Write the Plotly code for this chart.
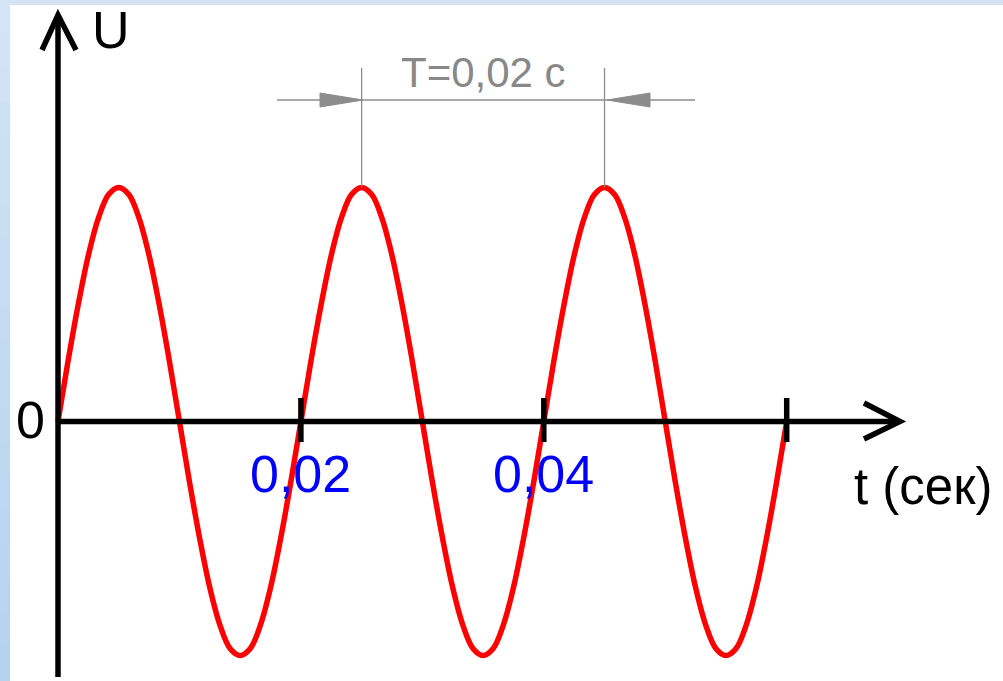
import plotly.graph_objects as go

# ---- data ----
t_values = [0.0, 0.000833, 0.001667, 0.0025, 0.003333, 0.004167, 0.005, 0.005833, 0.006667, 0.0075, 0.008333, 0.009167,
            0.01, 0.010833, 0.011667, 0.0125, 0.013333, 0.014167, 0.015, 0.015833, 0.016667, 0.0175, 0.018333, 0.019167,
            0.02, 0.020833, 0.021667, 0.0225, 0.023333, 0.024167, 0.025, 0.025833, 0.026667, 0.0275, 0.028333, 0.029167,
            0.03, 0.030833, 0.031667, 0.0325, 0.033333, 0.034167, 0.035, 0.035833, 0.036667, 0.0375, 0.038333, 0.039167,
            0.04, 0.040833, 0.041667, 0.0425, 0.043333, 0.044167, 0.045, 0.045833, 0.046667, 0.0475, 0.048333, 0.049167,
            0.05, 0.050833, 0.051667, 0.0525, 0.053333, 0.054167, 0.055, 0.055833, 0.056667, 0.0575, 0.058333, 0.059167,
            0.06]
u_values = [0.0, 0.26, 0.5, 0.71, 0.87, 0.97, 1.0, 0.97, 0.87, 0.71, 0.5, 0.26,
            0.0, -0.26, -0.5, -0.71, -0.87, -0.97, -1.0, -0.97, -0.87, -0.71, -0.5, -0.26,
            0.0, 0.26, 0.5, 0.71, 0.87, 0.97, 1.0, 0.97, 0.87, 0.71, 0.5, 0.26,
            0.0, -0.26, -0.5, -0.71, -0.87, -0.97, -1.0, -0.97, -0.87, -0.71, -0.5, -0.26,
            0.0, 0.26, 0.5, 0.71, 0.87, 0.97, 1.0, 0.97, 0.87, 0.71, 0.5, 0.26,
            0.0, -0.26, -0.5, -0.71, -0.87, -0.97, -1.0, -0.97, -0.87, -0.71, -0.5, -0.26,
            0.0]
tick_positions = [0.02, 0.04, 0.06]
tick_labels = ["0,02", "0,04"]
period_start = 0.025
period_end = 0.045
period_label = "T=0,02 c"

# ---- layout geometry ----
W, H = 1003, 681
ORIGIN_PX_X, ORIGIN_PX_Y = 58, 421.5
PX_PER_S = 12145.0
PX_PER_U = 234.0
x_range = [-ORIGIN_PX_X / PX_PER_S, (W - ORIGIN_PX_X) / PX_PER_S]
y_range = [-(H - ORIGIN_PX_Y) / PX_PER_U, ORIGIN_PX_Y / PX_PER_U]


def xp(px):  # absolute pixel x -> data t
    return (px - ORIGIN_PX_X) / PX_PER_S


def yp(py):  # absolute pixel y -> data U
    return (ORIGIN_PX_Y - py) / PX_PER_U


FONT = "Liberation Sans, Arial, sans-serif"
shapes = []

# background frame strips (left gradient, top strip)
n_bands = 20
c_top = (211, 228, 244)
c_bot = (181, 210, 238)
for i in range(n_bands):
    f = i / (n_bands - 1)
    col = tuple(round(c_top[k] + (c_bot[k] - c_top[k]) * f) for k in range(3))
    shapes.append(dict(type="rect", xref="paper", yref="paper", x0=0, x1=10 / W,
                       y0=1 - (i + 1) / n_bands, y1=1 - i / n_bands + 0.001,
                       line=dict(width=0), fillcolor="rgb(%d,%d,%d)" % col, layer="below"))
shapes.append(dict(type="rect", xref="paper", yref="paper", x0=0, x1=1, y0=1 - 5 / H, y1=1,
                   line=dict(width=0), fillcolor="rgb(212,228,243)", layer="below"))

GRAY = "#8c8c8c"
# dimension lines
shapes.append(dict(type="line", x0=xp(277), x1=xp(695), y0=yp(100), y1=yp(100),
                   line=dict(color=GRAY, width=1.3)))
for tt in (period_start, period_end):
    shapes.append(dict(type="line", x0=tt, x1=tt, y0=yp(68), y1=1.0,
                       line=dict(color=GRAY, width=1.3)))
# dimension arrowheads (filled, pointing inward)
pl = xp(363)
pr = xp(607)
shapes.append(dict(type="path",
                   path="M %f,%f L %f,%f L %f,%f L %f,%f Z" % (xp(320), yp(93), pl, yp(100), xp(320), yp(107), xp(320), yp(93)),
                   fillcolor=GRAY, line=dict(color=GRAY, width=1)))
shapes.append(dict(type="path",
                   path="M %f,%f L %f,%f L %f,%f L %f,%f Z" % (xp(650), yp(93), pr, yp(100), xp(650), yp(107), xp(650), yp(93)),
                   fillcolor=GRAY, line=dict(color=GRAY, width=1)))

fig = go.Figure()
fig.add_trace(go.Scatter(x=t_values, y=u_values, mode="lines",
                         line=dict(color="#ff0000", width=5.5, shape="spline", smoothing=1.0),
                         hoverinfo="skip", showlegend=False))

# axes (drawn above the curve)
AX = dict(color="black", width=5.5)
shapes.append(dict(type="line", x0=0, x1=0, y0=yp(677), y1=yp(16), line=AX, layer="above"))
shapes.append(dict(type="line", x0=0, x1=xp(898), y0=0, y1=0, line=AX, layer="above"))
shapes.append(dict(type="path", path="M %f,%f L %f,%f L %f,%f" % (xp(42), yp(50), 0, yp(15), xp(76), yp(50)),
                   line=AX, layer="above"))
shapes.append(dict(type="path", path="M %f,%f L %f,%f L %f,%f" % (xp(864), yp(403), xp(900), 0, xp(864), yp(439)),
                   line=AX, layer="above"))
for tp in tick_positions:
    shapes.append(dict(type="line", x0=tp, x1=tp, y0=yp(398), y1=yp(442), line=AX, layer="above"))

annotations = [
    dict(x=xp(111), y=yp(30), text="U", showarrow=False, font=dict(family=FONT, size=52, color="black"),
         xanchor="center", yanchor="middle"),
    dict(x=xp(30), y=yp(420), text="0", showarrow=False, font=dict(family=FONT, size=52, color="black"),
         xanchor="center", yanchor="middle"),
    dict(x=xp(852), y=yp(486), text="t (сек)", showarrow=False, font=dict(family=FONT, size=51, color="black"),
         xanchor="left", yanchor="middle"),
    dict(x=(period_start + period_end) / 2, y=yp(72), text=period_label, showarrow=False,
         font=dict(family=FONT, size=42, color="#888888"), xanchor="center", yanchor="middle"),
]
for tp, lab in zip(tick_positions, tick_labels):
    annotations.append(dict(x=tp, y=yp(474), text=lab, showarrow=False,
                            font=dict(family=FONT, size=52, color="#0000ff"),
                            xanchor="center", yanchor="middle"))

fig.update_layout(
    width=W, height=H, margin=dict(l=0, r=0, t=0, b=0, pad=0),
    paper_bgcolor="white", plot_bgcolor="white",
    xaxis=dict(range=x_range, visible=False, fixedrange=True),
    yaxis=dict(range=y_range, visible=False, fixedrange=True),
    shapes=shapes, annotations=annotations, showlegend=False,
)
fig.write_html("out.html", config={"displayModeBar": False},
               post_script="document.body.style.margin='0';document.body.style.overflow='hidden';")
